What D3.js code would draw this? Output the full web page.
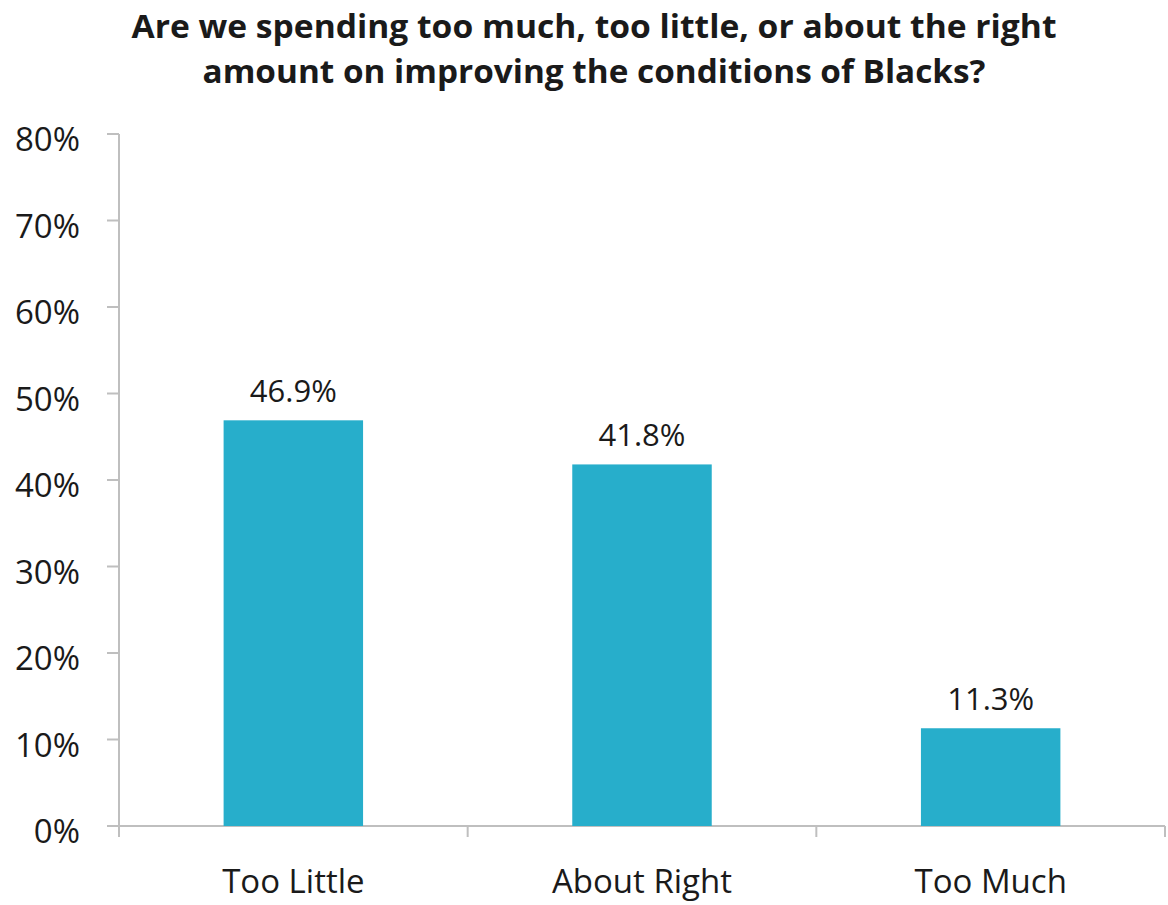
<!DOCTYPE html>
<html>
<head>
<meta charset="utf-8">
<script src="https://cdn.jsdelivr.net/npm/d3@7"></script>
<style>
  html, body { margin: 0; padding: 0; background: #fff; }
  svg { display: block; }
  text { font-family: "Open Sans", "Noto Sans", sans-serif; fill: #1a1a1a; }
</style>
</head>
<body>
<svg id="chart" width="1168" height="905"></svg>
<script>
// Survey responses: spending on improving the conditions of Blacks
const titleLines = [
  "Are we spending too much, too little, or about the right",
  "amount on improving the conditions of Blacks?"
];
const categories = ["Too Little", "About Right", "Too Much"];
const shares = [0.469, 0.418, 0.113];
const valueLabels = ["46.9%", "41.8%", "11.3%"];
const yTicks = [0, 0.1, 0.2, 0.3, 0.4, 0.5, 0.6, 0.7, 0.8];

const svg = d3.select("#chart");
const axisColor = "#bfbfbf";
const barColor = "#27aecb";

const x = d3.scaleBand()
  .domain(categories)
  .range([119, 1165])
  .paddingInner(0.6)
  .paddingOuter(0.3);

const y = d3.scaleLinear()
  .domain([0, 0.8])
  .range([826, 134]);

// Title (two centred lines)
const titleWidths = [925, 783];
svg.append("g")
  .selectAll("text")
  .data(titleLines)
  .join("text")
  .attr("x", 594)
  .attr("y", (d, i) => 38 + i * 45)
  .attr("text-anchor", "middle")
  .attr("font-size", 32)
  .attr("font-weight", 700)
  .attr("textLength", (d, i) => titleWidths[i])
  .attr("lengthAdjust", "spacingAndGlyphs")
  .text(d => d);

// Y axis
const yAxis = svg.append("g");
yAxis.append("line")
  .attr("x1", 119).attr("x2", 119)
  .attr("y1", y(0.8)).attr("y2", y(0) + 11)
  .attr("stroke", axisColor).attr("stroke-width", 2);
yAxis.selectAll("line.tick")
  .data(yTicks)
  .join("line")
  .attr("class", "tick")
  .attr("x1", 107).attr("x2", 119)
  .attr("y1", d => y(d)).attr("y2", d => y(d))
  .attr("stroke", axisColor).attr("stroke-width", 2);
yAxis.selectAll("text")
  .data(yTicks)
  .join("text")
  .attr("x", 80)
  .attr("y", d => y(d) + 17)
  .attr("text-anchor", "end")
  .attr("font-size", 33)
  .text(d3.format(".0%"));

// X axis with category dividers
const xAxis = svg.append("g");
xAxis.append("line")
  .attr("x1", 119).attr("x2", 1165)
  .attr("y1", y(0)).attr("y2", y(0))
  .attr("stroke", axisColor).attr("stroke-width", 2);
const step = x.step();
const dividers = d3.range(categories.length + 1).map(i => x.range()[0] + i * step);
xAxis.selectAll("line.div")
  .data(dividers)
  .join("line")
  .attr("class", "div")
  .attr("x1", d => d).attr("x2", d => d)
  .attr("y1", y(0)).attr("y2", y(0) + 11)
  .attr("stroke", axisColor).attr("stroke-width", 2);
xAxis.selectAll("text")
  .data(categories)
  .join("text")
  .attr("x", d => x(d) + x.bandwidth() / 2)
  .attr("y", 893)
  .attr("text-anchor", "middle")
  .attr("font-size", 33)
  .text(d => d);

// Bars
svg.append("g")
  .selectAll("rect")
  .data(categories)
  .join("rect")
  .attr("x", d => x(d))
  .attr("width", x.bandwidth())
  .attr("y", (d, i) => y(shares[i]))
  .attr("height", (d, i) => y(0) - y(shares[i]))
  .attr("fill", barColor);

// Value labels
svg.append("g")
  .selectAll("text")
  .data(categories)
  .join("text")
  .attr("x", d => x(d) + x.bandwidth() / 2)
  .attr("y", (d, i) => y(shares[i]) - 18)
  .attr("text-anchor", "middle")
  .attr("font-size", 31)
  .text((d, i) => valueLabels[i]);
</script>
</body>
</html>
